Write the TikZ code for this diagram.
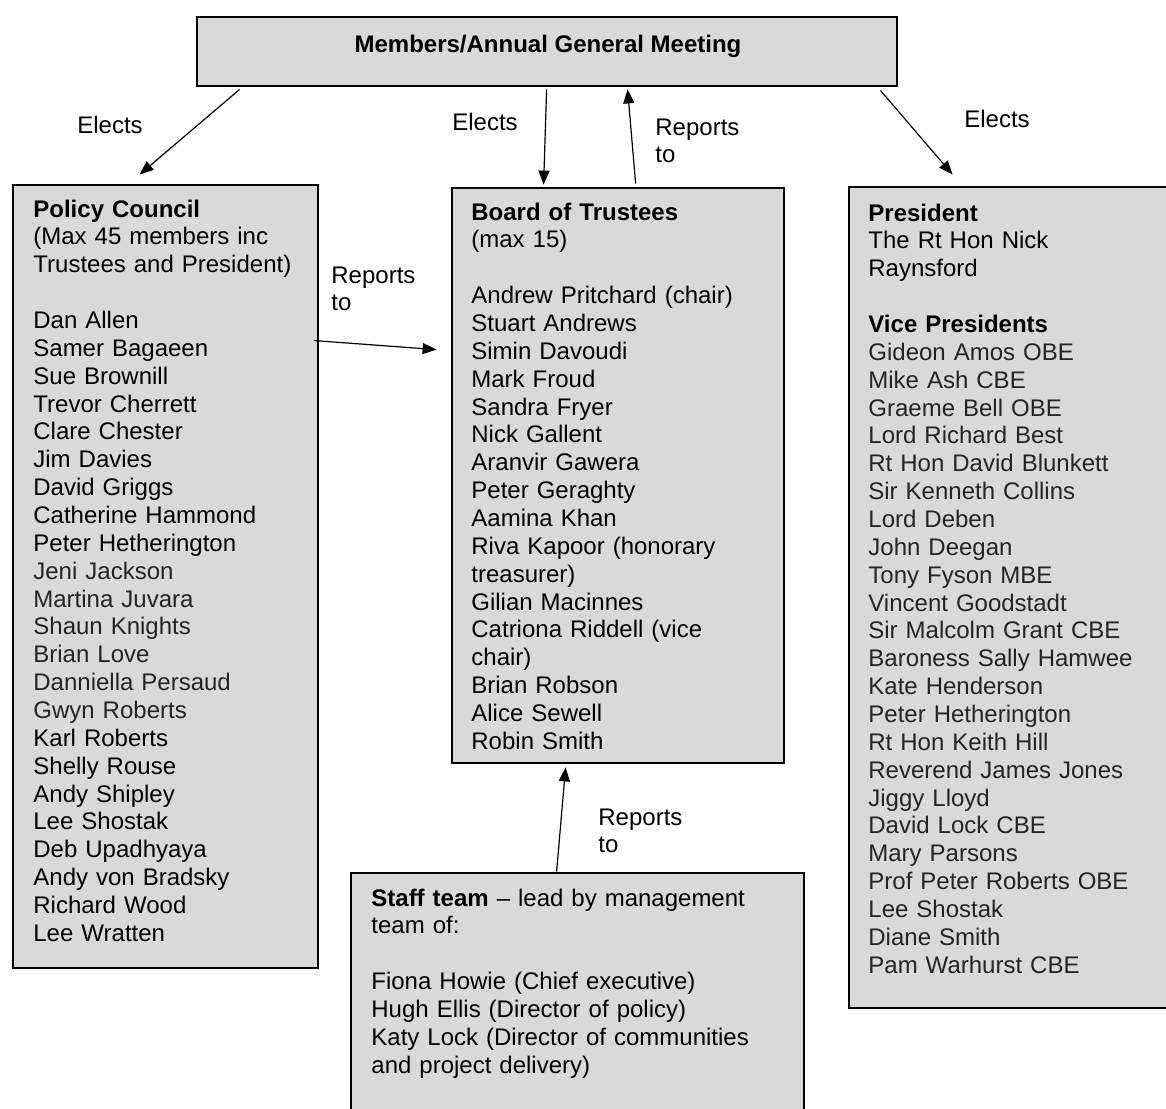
\documentclass[tikz,border=0pt]{standalone}
\usepackage{fontspec}
\setmainfont{Liberation Sans}
\usetikzlibrary{arrows.meta,fit,calc}
\definecolor{boxfill}{HTML}{D9D9D9}
\colorlet{lighttext}{black!86}
\tikzset{
  box/.style={draw=black, line width=1.4pt, fill=boxfill, inner sep=0pt, rectangle},
  body/.style={anchor=base west, inner sep=0pt, align=left, font=\fontsize{12}{13.93}\selectfont},
  lbl/.style={inner sep=0pt, align=left, font=\fontsize{12}{13.93}\selectfont},
  arr/.style={line width=0.6pt, -{Triangle[length=7pt,width=5.5pt]}}
}
\begin{document}
\begin{tikzpicture}[x=0.5pt,y=-0.5pt]
\clip (0,0) rectangle (1166,1108);
\fill[white] (0,0) rectangle (1166,1108);

% boxes
\node[box, fit={(197,17) (897,86)}] (agm) {};
\node[box, fit={(13,185) (318,968)}] (pc) {};
\node[box, fit={(452,188) (784,763)}] (bt) {};
\node[box, fit={(849,187) (1180,1008)}] (pres) {};
\node[box, fit={(351,873) (804,1130)}] (staff) {};

% titles and texts
\node[lbl, anchor=base, font=\fontsize{12}{13.93}\selectfont\bfseries] (agmtxt) at (548,52) {Members/Annual General Meeting};

\node[body, text width=145pt] (pctxt) at (33,217) {%
\textbf{Policy Council}\\
(Max 45 members inc\\
Trustees and President)\\
~\\
Dan Allen\\
Samer Bagaeen\\
Sue Brownill\\
Trevor Cherrett\\
Clare Chester\\
Jim Davies\\
David Griggs\\
Catherine Hammond\\
Peter Hetherington\\
\textcolor{lighttext}{Jeni Jackson}\\
\textcolor{lighttext}{Martina Juvara}\\
\textcolor{lighttext}{Shaun Knights}\\
\textcolor{lighttext}{Brian Love}\\
\textcolor{lighttext}{Danniella Persaud}\\
\textcolor{lighttext}{Gwyn Roberts}\\
Karl Roberts\\
Shelly Rouse\\
Andy Shipley\\
Lee Shostak\\
Deb Upadhyaya\\
Andy von Bradsky\\
Richard Wood\\
Lee Wratten};

\node[body, text width=150pt] (bttxt) at (471,220) {%
\textbf{Board of Trustees}\\
(max 15)\\
~\\
Andrew Pritchard (chair)\\
Stuart Andrews\\
Simin Davoudi\\
Mark Froud\\
Sandra Fryer\\
Nick Gallent\\
Aranvir Gawera\\
Peter Geraghty\\
Aamina Khan\\
Riva Kapoor (honorary\\
treasurer)\\
Gilian Macinnes\\
Catriona Riddell (vice\\
chair)\\
Brian Robson\\
Alice Sewell\\
Robin Smith};

\node[body, text width=150pt] (prestxt) at (868,221) {%
\textbf{President}\\
The Rt Hon Nick\\
Raynsford\\
~\\
\textbf{Vice Presidents}\\
\color{lighttext}Gideon Amos OBE\\
Mike Ash CBE\\
Graeme Bell OBE\\
Lord Richard Best\\
Rt Hon David Blunkett\\
Sir Kenneth Collins\\
Lord Deben\\
John Deegan\\
Tony Fyson MBE\\
Vincent Goodstadt\\
Sir Malcolm Grant CBE\\
Baroness Sally Hamwee\\
Kate Henderson\\
Peter Hetherington\\
Rt Hon Keith Hill\\
Reverend James Jones\\
Jiggy Lloyd\\
David Lock CBE\\
Mary Parsons\\
Prof Peter Roberts OBE\\
Lee Shostak\\
Diane Smith\\
Pam Warhurst CBE};

\node[body, text width=210pt] (stafftxt) at (371,906) {%
\textbf{Staff team} -- lead by management\\
team of:\\
~\\
Fiona Howie (Chief executive)\\
Hugh Ellis (Director of policy)\\
Katy Lock (Director of communities\\
and project delivery)};

% connector labels
\node[lbl, anchor=base] (l1) at (110,133) {Elects};
\node[lbl, anchor=base] (l2) at (485,130) {Elects};
\node[lbl, anchor=base] (l3) at (997,127) {Elects};
\node[body, text width=50pt] (l4) at (655,135) {Reports\\to};
\node[body, text width=50pt] (l5) at (331,283) {Reports\\to};
\node[body, text width=50pt] (l6) at (598,825) {Reports\\to};

% connectors
\draw[arr] ($(agm.south west)+(44,2)$) -- ($(pc.north west)+(128,-9)$);
\draw[arr] ($(agm.south west)+(351,2)$) -- ($(bt.north west)+(93,-2)$);
\draw[arr] ($(bt.north west)+(185,-3)$) -- ($(agm.south west)+(432,2)$);
\draw[arr] ($(agm.south east)+(-18,3)$) -- ($(pres.north west)+(105,-11)$);
\draw[arr] ($(pc.north east)+(-5,157)$) -- ($(bt.north west)+(-14,163)$);
\draw[arr] ($(staff.north west)+(207,0)$) -- ($(bt.south west)+(115,3)$);
\end{tikzpicture}
\end{document}
